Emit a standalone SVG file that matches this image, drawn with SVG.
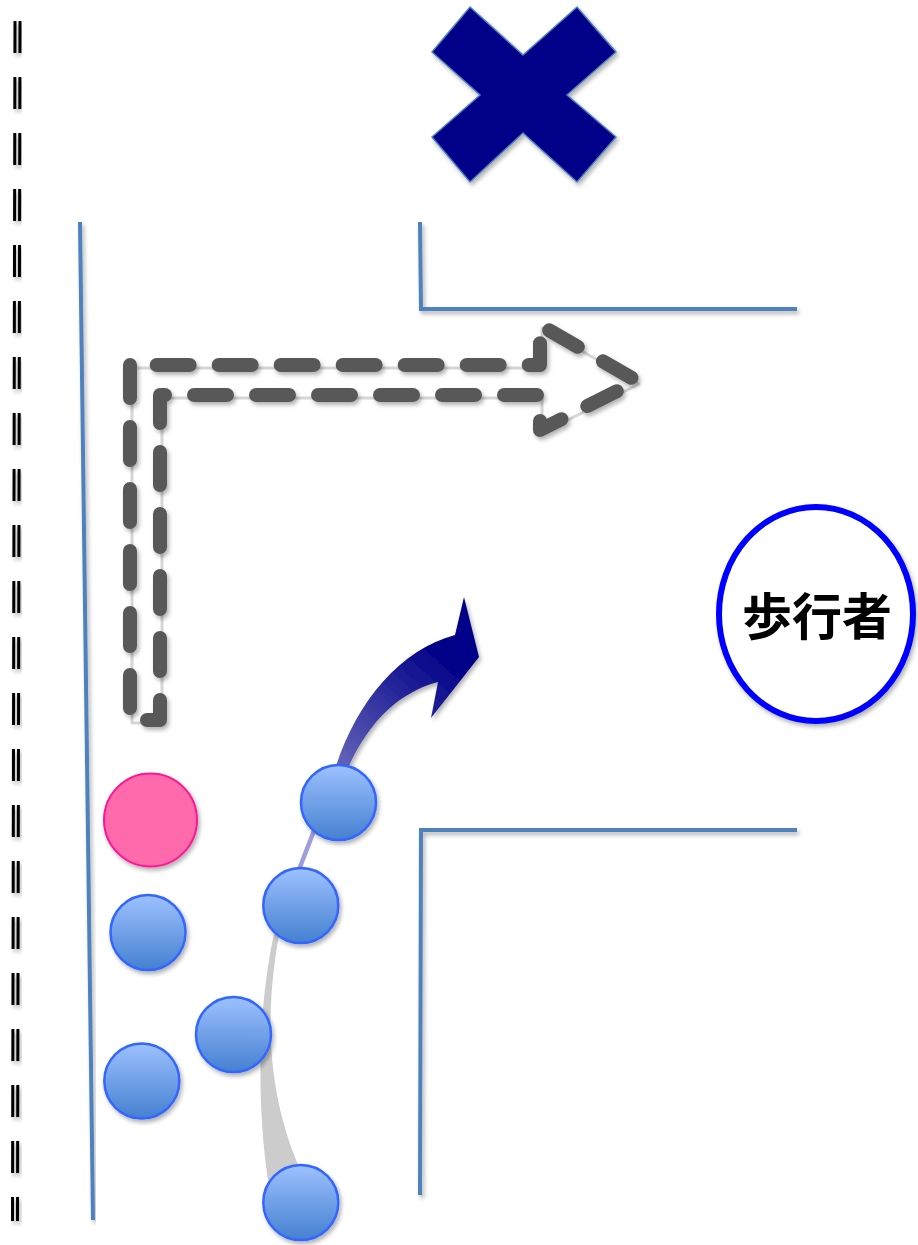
<svg xmlns="http://www.w3.org/2000/svg" width="918" height="1245" viewBox="0 0 918 1245">
  <defs>
    <filter id="sh" x="-20%" y="-20%" width="140%" height="140%">
      <feDropShadow dx="2" dy="3" stdDeviation="2" flood-color="#000" flood-opacity="0.3"/>
    </filter>
    <linearGradient id="ball" x1="0" y1="0" x2="0" y2="1">
      <stop offset="0" stop-color="#9dc1ff"/>
      <stop offset="1" stop-color="#4580d0"/>
    </linearGradient>
    <linearGradient id="arrowGrad" gradientUnits="userSpaceOnUse" x1="340" y1="765" x2="440" y2="650">
      <stop offset="0" stop-color="#6363b8"/>
      <stop offset="1" stop-color="#000088"/>
    </linearGradient>
    <style>
      .road { fill: none; stroke: #4f81bd; stroke-width: 4; filter: url(#sh); }
      .ball { fill: url(#ball); stroke: #3366ff; stroke-width: 2.5; filter: url(#sh); }
      .kerb { stroke: #000; stroke-width: 3; stroke-dasharray: 32 24; fill: none; }
      .label { font-family: "Noto Sans CJK JP", "Noto Sans CJK SC", sans-serif; font-weight: bold; font-size: 50px; fill: #000; }
    </style>
  </defs>

  <g id="kerb" filter="url(#sh)">
    <line class="kerb" x1="15" y1="21" x2="12.5" y2="1221"/>
    <line class="kerb" x1="20" y1="21" x2="17.5" y2="1221"/>
  </g>

  <g id="roads">
    <line class="road" x1="80" y1="222" x2="93" y2="1220"/>
    <polyline class="road" points="420,222 421,309 797,309"/>
    <polyline class="road" points="797,830 421,830 420,1195"/>
  </g>

  <g id="cross">
    <polygon points="470,7 523,55 577,7 616,52 567,95 616,137 577,182 523,133 470,182 432,137 480,95 432,52" fill="#000088" stroke="#4f81bd" stroke-width="1.5" filter="url(#sh)"/>
  </g>

  <g id="route-arrow">
    <path d="M132,368 V723 H162 V398 H542 V433 L639,384 L542,328 V368 Z" fill="none" stroke="#d6d6d6" stroke-width="3" stroke-linejoin="round"/>
    <path d="M130,365 V720 H160 V395 H540 V430 L637,381 L540,325 V365 Z" fill="none" stroke="#595959" stroke-width="14" stroke-linecap="round" stroke-linejoin="round" stroke-dasharray="33 29" filter="url(#sh)"/>
  </g>

  <g id="connectors">
    <path d="M268,1180 C256,1100 258,1000 276,925 L281,925 C266,1000 262,1090 305,1180 Z" fill="#cccccc"/>
    <line x1="295" y1="880" x2="322" y2="810" stroke="#9d9de0" stroke-width="4.5"/>
    <path d="M336,766 C358,700 400,650 455,635 L464,597 L479,657 L431,718 L438,682 C400,692 370,720 349,766 Z" fill="url(#arrowGrad)" filter="url(#sh)"/>
  </g>

  <g id="pink-car">
    <circle cx="150.5" cy="820" r="46.5" fill="#ff6aac" stroke="#ff1493" stroke-width="2" filter="url(#sh)"/>
  </g>
  <g id="ball-1"><circle class="ball" cx="338.5" cy="802.5" r="37.5"/></g>
  <g id="ball-2"><circle class="ball" cx="300.8" cy="905.5" r="37.5"/></g>
  <g id="ball-3"><circle class="ball" cx="233.5" cy="1034.5" r="37.5"/></g>
  <g id="ball-4"><circle class="ball" cx="148" cy="932.5" r="37.5"/></g>
  <g id="ball-5"><circle class="ball" cx="141.8" cy="1081" r="37.5"/></g>
  <g id="ball-6"><circle class="ball" cx="300.8" cy="1202.5" r="37.5"/></g>

  <g id="pedestrian">
    <ellipse cx="816" cy="614" rx="97" ry="107" fill="#fff" stroke="#0000ff" stroke-width="6" filter="url(#sh)"/>
    <text class="label" x="817" y="635" text-anchor="middle">歩行者</text>
  </g>
</svg>
